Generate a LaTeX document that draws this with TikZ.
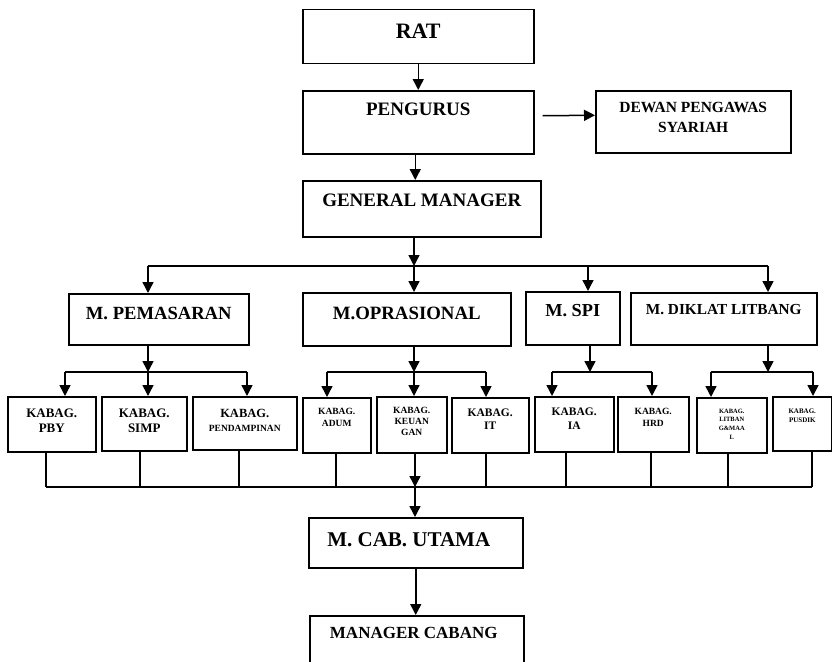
\documentclass[tikz,border=0pt]{standalone}
\usepackage{fontspec}
\setmainfont{Liberation Serif}
\usetikzlibrary{positioning,arrows.meta}
\tikzset{
        >={Triangle[length=11pt,width=11pt]}, % filled arrow heads
        box/.style={draw, anchor=north west, inner sep=0pt}, % boxes are placed by their top left corner
        txt/.style 2 args={font=\bfseries\fontsize{#1}{#2}\selectfont, align=center, inner sep=0pt},
}
\begin{document}
\begin{tikzpicture}[x=1pt,y=-1pt,line width=1.5pt]
\clip (0,0) rectangle (832,661);
% top part
\node[box, minimum width=231pt, minimum height=54pt] (rat) at (302,9) {};
\node[box, minimum width=231pt, minimum height=63pt] (peng) at (302,90) {};
\node[box, minimum width=195pt, minimum height=62pt] (dewan) at (595,90) {};
\node[box, minimum width=238pt, minimum height=56pt] (gm) at (302,180) {};
\node[txt={22}{26}] (ratT) at ([yshift=-22pt]rat.north) {RAT};
\node[txt={19}{23}] (pengT) at ([yshift=-19.5pt]peng.north) {PENGURUS};
\node[txt={15.5}{20}] (dewanT) at ([yshift=-27pt]dewan.north) {DEWAN PENGAWAS\\SYARIAH};
\node[txt={19}{23}] (gmT) at ([yshift=-20pt]gm.north) {GENERAL MANAGER};
\draw[->] (rat.south) -- (peng.north);
\draw[->] ([xshift=8pt,yshift=6.5pt]peng.east) -- ([yshift=6.5pt]dewan.west);
\draw[->] ([xshift=-3pt]peng.south) -- ([xshift=-3pt]peng.south |- gm.north);

% managers
\node[box, minimum width=180pt, minimum height=51pt] (pem) at (68,293) {};
\node[box, minimum width=208pt, minimum height=53pt] (ops) at (302,292) {};
\node[box, minimum width=94pt, minimum height=53pt] (spi) at (525,291) {};
\node[box, minimum width=186pt, minimum height=52pt] (dik) at (630,292) {};
\node[txt={18.6}{22}] (pemT) at ([yshift=-20pt]pem.north) {M. PEMASARAN};
\node[txt={18.8}{22}] (opsT) at ([yshift=-21pt]ops.north) {M.OPRASIONAL};
\node[txt={18.3}{22}] (spiT) at ([yshift=-20pt]spi.north) {M. SPI};
\node[txt={15.3}{18}] (dikT) at ([yshift=-18pt]dik.north) {M. DIKLAT LITBANG};

\coordinate (top) at (414,266);
\coordinate (top-L) at (148,266);
\coordinate (top-S) at (588,266);
\coordinate (top-R) at (768,266);
\draw (top-L) -- (top-R);
\draw[->] (top |- gm.south) -- (top);
\foreach \a/\b in {top-L/pem, top/ops, top-S/spi, top-R/dik}
  \draw[->] (\a) -- (\a |- \b.north);

% kabag boxes
\node[box, minimum width=88pt, minimum height=55pt] (pby) at (7,396) {};
\node[box, minimum width=85pt, minimum height=54pt] (simp) at (101,396) {};
\node[box, minimum width=104pt, minimum height=53pt] (pend) at (192,396) {};
\node[box, minimum width=68pt, minimum height=55pt] (adum) at (302,397) {};
\node[box, minimum width=70pt, minimum height=56pt] (keu) at (376,396) {};
\node[box, minimum width=77pt, minimum height=55pt] (it) at (451,397) {};
\node[box, minimum width=79pt, minimum height=55pt] (ia) at (534,396) {};
\node[box, minimum width=71pt, minimum height=55pt] (hrd) at (617,396) {};
\node[box, minimum width=70pt, minimum height=55pt] (lit) at (696,397) {};
\node[box, minimum width=59pt, minimum height=54pt] (pus) at (772,396) {};
\node[txt={13}{15}] (pbyT) at ([yshift=-24.5pt]pby.north) {KABAG.\\PBY};
\node[txt={13}{15}] (simpT) at ([yshift=-24.5pt]simp.north) {KABAG.\\SIMP};
\node[txt={12.5}{14}] (pendT) at ([yshift=-24pt]pend.north) {KABAG.\\{\fontsize{9.5}{14}\selectfont PENDAMPINAN}};
\node[txt={9.5}{12}] (adumT) at ([yshift=-20pt]adum.north) {KABAG.\\ADUM};
\node[txt={9.5}{11}] (keuT) at ([yshift=-25pt]keu.north) {KABAG.\\KEUAN\\GAN};
\node[txt={11.5}{12.5}] (itT) at ([yshift=-22pt]it.north) {KABAG.\\IT};
\node[txt={11.5}{14}] (iaT) at ([yshift=-23pt]ia.north) {KABAG.\\IA};
\node[txt={9.5}{12}] (hrdT) at ([yshift=-21pt]hrd.north) {KABAG.\\HRD};
\node[txt={6.5}{8.7}] (litT) at ([yshift=-27pt]lit.north) {KABAG.\\LITBAN\\G\&MAA\\L};
\node[txt={7}{9}] (pusT) at ([yshift=-19.5pt]pus.north) {KABAG.\\PUSDIK};

\coordinate (pem-L) at (65,372);  \coordinate (pem-B) at (148,372); \coordinate (pem-R) at (247,372);
\coordinate (ops-L) at (327,372); \coordinate (ops-B) at (414,372); \coordinate (ops-R) at (486,372);
\coordinate (spi-L) at (552,372); \coordinate (spi-B) at (590,372); \coordinate (spi-R) at (652,372);
\coordinate (dik-L) at (711,372); \coordinate (dik-B) at (768,372); \coordinate (dik-R) at (813,372);
\foreach \g in {pem,ops,spi,dik}{
  \draw (\g-L) -- (\g-R);
  \draw[->] (\g-B |- \g.south) -- (\g-B);
}
\foreach \a/\b in {pem-L/pby, pem-B/simp, pem-R/pend, ops-L/adum, ops-B/keu, ops-R/it, spi-L/ia, spi-R/hrd, dik-L/lit, dik-R/pus}
  \draw[->] (\a) -- (\a |- \b.north);

% bottom
\coordinate (bus-L) at (46,487);
\coordinate (bus-R) at (812,487);
\coordinate (bus) at (415,487);
\draw (bus-L) -- (bus-R);
\foreach \b/\x in {pby/46, simp/140, pend/239, adum/336, it/486, ia/566, hrd/651, lit/728, pus/812}
  \draw (\b.south -| \x,0) -- (\x,0 |- bus);
\draw[->] (bus |- keu.south) -- (bus);

\node[box, minimum width=214pt, minimum height=50pt] (mcab) at (308,517) {};
\node[box, minimum width=214pt, minimum height=70pt] (mgr) at (309,615) {};
\node[txt={21}{25}] (mcabT) at ([yshift=-23pt,xshift=-7pt]mcab.north) {M. CAB. UTAMA};
\node[txt={17}{20}] (mgrT) at ([yshift=-18pt,xshift=-3pt]mgr.north) {MANAGER CABANG};
\draw[->] (bus) -- (bus |- mcab.north);
\draw[->] (mcab.south) -- (mcab.south |- mgr.north);

\end{tikzpicture}
\end{document}
